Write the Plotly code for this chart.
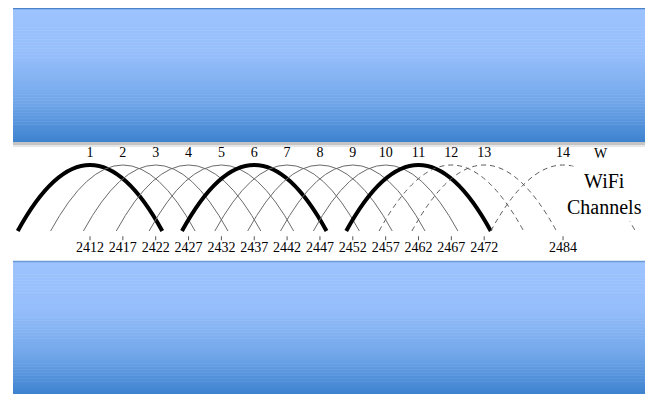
import plotly.graph_objects as go

# channel data
channels = list(range(1, 15))
center_mhz = [2412, 2417, 2422, 2427, 2432, 2437, 2442, 2447, 2452, 2457, 2462, 2467, 2472, 2484]
freq_ticks = [2412, 2417, 2422, 2427, 2432, 2437, 2442, 2447, 2452, 2457, 2462, 2467, 2472, 2484]
thick_channels = [1, 6, 11]
dashed_channels = [12, 13, 14]
half_width = 11  # MHz each side of the centre

# the page puts the plot 8px in from the corner, so the figure is a bit smaller
OFF = 8
W, H = 653 - OFF, 394 - OFF


def py(p):
    # reference pixel row -> paper y
    return 1 - (p - OFF) / H


def hex_to_rgb(h):
    h = h.lstrip('#')
    return [int(h[i:i + 2], 16) for i in (0, 2, 4)]


def mix(stops, t):
    for (t0, c0), (t1, c1) in zip(stops, stops[1:]):
        if t0 <= t <= t1:
            a = (t - t0) / (t1 - t0) if t1 > t0 else 0
            r0, r1 = hex_to_rgb(c0), hex_to_rgb(c1)
            return 'rgb(%d,%d,%d)' % tuple(round(r0[i] + (r1[i] - r0[i]) * a) for i in range(3))
    return stops[-1][1]


grad = [(0, '#9dc3fe'), (0.35, '#96befb'), (0.7, '#72a7ea'), (1.0, '#3e83cf')]
band_x0 = (13 - OFF) / W


def band(top, bottom, steps=90):
    out = []
    h = (bottom - top) / steps
    for i in range(steps):
        out.append(dict(type='rect', xref='paper', yref='paper', x0=band_x0, x1=1,
                        y0=py(top + (i + 1) * h + 0.5), y1=py(top + i * h),
                        fillcolor=mix(grad, i / (steps - 1)), line_width=0, layer='below'))
    return out


shapes = []
shapes += band(8, 142)
shapes += band(261, 394.5)
# top borders and shadow
shapes.append(dict(type='line', xref='paper', yref='paper', x0=band_x0, x1=1,
                   y0=py(8.5), y1=py(8.5), line=dict(color='#4a84c8', width=1.5)))
shapes.append(dict(type='line', xref='paper', yref='paper', x0=band_x0, x1=1,
                   y0=py(261.5), y1=py(261.5), line=dict(color='#6b9bd6', width=1.5)))
shapes.append(dict(type='rect', xref='paper', yref='paper', x0=band_x0, x1=1,
                   y0=py(145), y1=py(142), fillcolor='#c4c4c4', line_width=0))
shapes.append(dict(type='rect', xref='paper', yref='paper', x0=band_x0, x1=1,
                   y0=py(147), y1=py(145), fillcolor='#e6e6e6', line_width=0))

# channel arcs (parabola via quadratic bezier)
for ch, c in zip(channels, center_mhz):
    if ch in thick_channels:
        line = dict(color='black', width=4)
    elif ch in dashed_channels:
        line = dict(color='#5a5a5a', width=1, dash='5px,4px')
    else:
        line = dict(color='#6a6a6a', width=1)
    shapes.append(dict(type='path', xref='x', yref='y',
                       path=f'M {c - half_width},0 Q {c},2 {c + half_width},0', line=line))

# small ticks above frequency labels
for f in freq_ticks:
    shapes.append(dict(type='line', xref='x', yref='y', x0=f, x1=f, y0=-0.08, y1=-0.14,
                       line=dict(color='#555555', width=1)))

fig = go.Figure()
fig.add_trace(go.Scatter(x=center_mhz, y=[1.17] * len(channels), mode='text',
                         text=[str(c) for c in channels],
                         textfont=dict(family='Liberation Serif', size=14, color='black'),
                         hoverinfo='skip'))
fig.add_trace(go.Scatter(x=freq_ticks, y=[-0.26] * len(freq_ticks), mode='text',
                         text=[str(f) for f in freq_ticks],
                         textfont=dict(family='Liberation Serif', size=14, color='black'),
                         hoverinfo='skip'))

# x: 2412 MHz sits at reference px 90, 6.57 px per MHz
px_per_mhz = 6.57
x_lo = 2412 - (90 - OFF) / px_per_mhz
x_hi = x_lo + W / px_per_mhz
# y: arc base at reference px 231, arc top at px 165
base_px, unit_px = 231 - OFF, 66
fig.update_layout(
    width=W, height=H,
    margin=dict(l=0, r=0, t=0, b=0),
    paper_bgcolor='white', plot_bgcolor='white',
    showlegend=False,
    shapes=shapes,
    xaxis=dict(range=[x_lo, x_hi], visible=False, fixedrange=True),
    yaxis=dict(range=[(base_px - H) / unit_px, base_px / unit_px], visible=False, fixedrange=True),
    annotations=[
        dict(x=2412 + (604 - 90) / px_per_mhz, y=(231 - 194) / unit_px, xref='x', yref='y',
             text='WiFi<br>Channels', showarrow=False, bgcolor='white',
             font=dict(family='Liberation Serif', size=20, color='black'), borderpad=3),
        dict(x=2412 + (601 - 90) / px_per_mhz, y=1.17, xref='x', yref='y', text='W',
             showarrow=False, font=dict(family='Liberation Serif', size=14, color='black')),
    ],
)

fig.write_html("out.html")
